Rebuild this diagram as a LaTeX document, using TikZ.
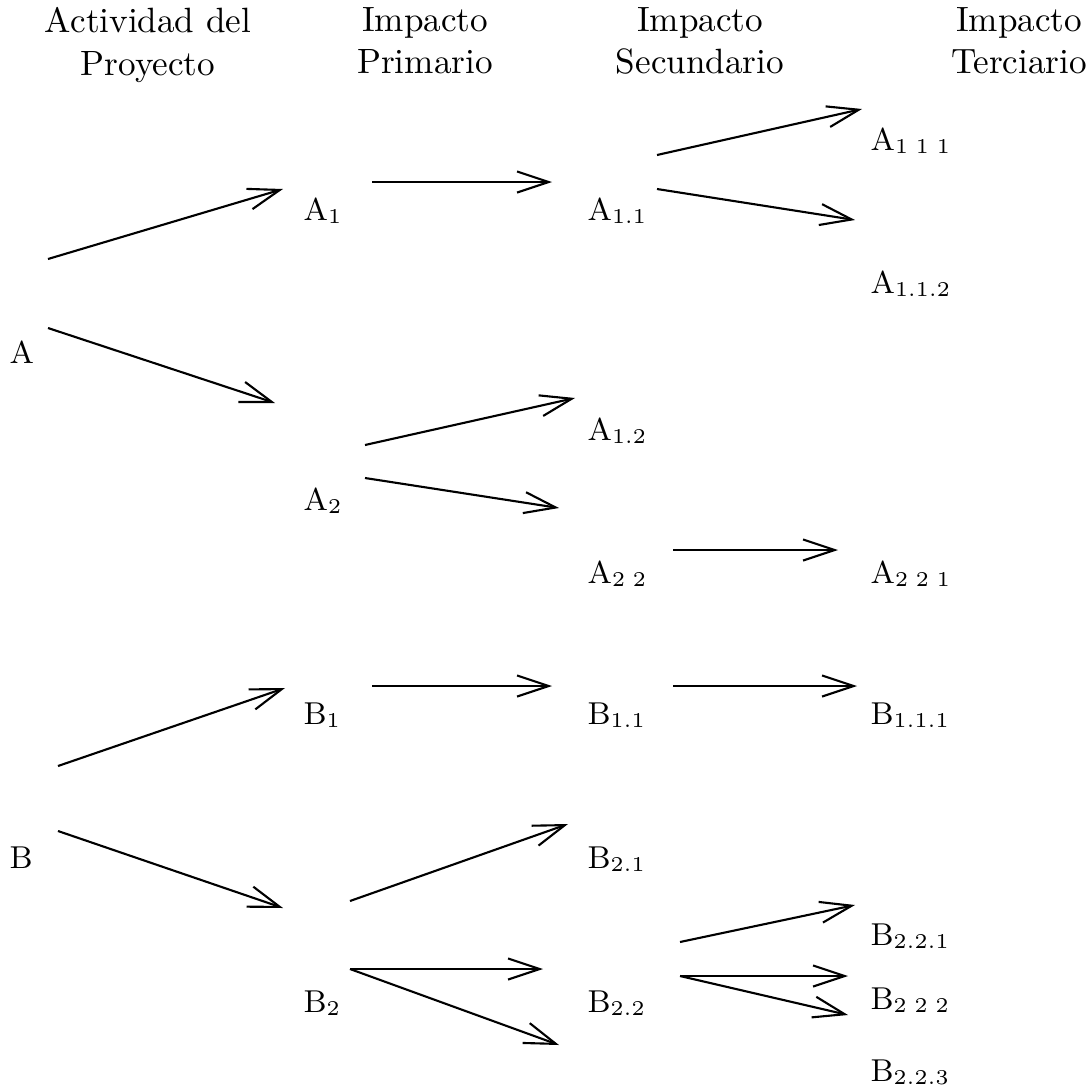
\documentclass[tikz,border=0pt]{standalone}
\usepackage{tkz-euclide}
\usetikzlibrary{arrows.meta}
\tikzset{>={Straight Barb[length=9pt,width=6pt]}}
\tikzset{lbl/.style={anchor=base west,inner sep=0pt,font=\fontsize{9}{11}\selectfont},
         hdr/.style={anchor=north,inner sep=0pt,align=center,font=\fontsize{10}{12}\selectfont},
         flecha/.style={->,line width=0.6pt}}
\newcommand{\hueco}{\phantom{.}}

\begin{document}
\begin{tikzpicture}
    \useasboundingbox (0,0) rectangle (10.87,-10.88);
    % encabezados
    \node[hdr] (hAct) at (1.48,-0.07) {Actividad del\\Proyecto};
    \node[hdr] (hPri) at (4.25,-0.07) {Impacto\\Primario};
    \node[hdr] (hSec) at (7.00,-0.07) {Impacto\\Secundario};
    \node[hdr] (hTer) at (10.19,-0.07) {Impacto\\Terciario};
    % actividades
    \node[lbl] (A) at (0.09,-3.63) {A};
    \node[lbl] (B) at (0.09,-8.68) {B};
    % impactos primarios
    \node[lbl] (A1) at (3.03,-2.20) {A$_1$};
    \node[lbl] (A2) at (3.03,-5.10) {A$_2$};
    \node[lbl] (B1) at (3.03,-7.24) {B$_1$};
    \node[lbl] (B2) at (3.03,-10.12) {B$_2$};
    % impactos secundarios
    \node[lbl] (A11) at (5.87,-2.20) {A$_{1.1}$};
    \node[lbl] (A12) at (5.87,-4.40) {A$_{1.2}$};
    \node[lbl] (A22) at (5.87,-5.83) {A$_{2\hueco2}$};
    \node[lbl] (B11) at (5.87,-7.24) {B$_{1.1}$};
    \node[lbl] (B21) at (5.87,-8.68) {B$_{2.1}$};
    \node[lbl] (B22) at (5.87,-10.12) {B$_{2.2}$};
    % impactos terciarios
    \node[lbl] (A111) at (8.70,-1.50) {A$_{1\hueco1\hueco1}$};
    \node[lbl] (A112) at (8.70,-2.93) {A$_{1.1.2}$};
    \node[lbl] (A221) at (8.70,-5.83) {A$_{2\hueco2\hueco1}$};
    \node[lbl] (B111) at (8.70,-7.24) {B$_{1.1.1}$};
    \node[lbl] (B221) at (8.70,-9.45) {B$_{2.2.1}$};
    \node[lbl] (B222) at (8.70,-10.09) {B$_{2\hueco2\hueco2}$};
    \node[lbl] (B223) at (8.70,-10.81) {B$_{2.2.3}$};
    % extremos de las flechas
    \tkzDefPoints{0.48/-2.59/tA1, 2.83/-1.89/hA1, 0.48/-3.28/tA2, 2.75/-4.03/hA2,
                  3.72/-1.82/tA11, 5.52/-1.82/hA11,
                  6.57/-1.55/tA111, 8.62/-1.09/hA111, 6.57/-1.89/tA112, 8.55/-2.20/hA112,
                  3.65/-4.45/tA12, 5.75/-3.98/hA12, 3.65/-4.78/tA22, 5.59/-5.08/hA22,
                  6.73/-5.50/tA221, 8.38/-5.50/hA221,
                  0.58/-7.66/tB1, 2.85/-6.88/hB1, 0.58/-8.31/tB2, 2.83/-9.08/hB2,
                  3.72/-6.86/tB11, 5.52/-6.86/hB11, 6.73/-6.86/tB111, 8.57/-6.86/hB111,
                  3.50/-9.01/tB21, 5.68/-8.24/hB21, 3.50/-9.69/tB22, 5.43/-9.69/hB22,
                  5.59/-10.45/hB23,
                  6.80/-9.42/tB221, 8.55/-9.05/hB221, 6.80/-9.76/tB222, 8.48/-9.76/hB222,
                  8.48/-10.15/hB223}
    % flechas
    \foreach \n in {A1,A2,A11,A111,A112,A12,A22,A221,B1,B2,B11,B111,B21,B22,B221,B222}
      \draw[flecha] (t\n) -- (h\n);
    \draw[flecha] (tB22) -- (hB23);
    \draw[flecha] (tB222) -- (hB223);
\end{tikzpicture}
\end{document}
